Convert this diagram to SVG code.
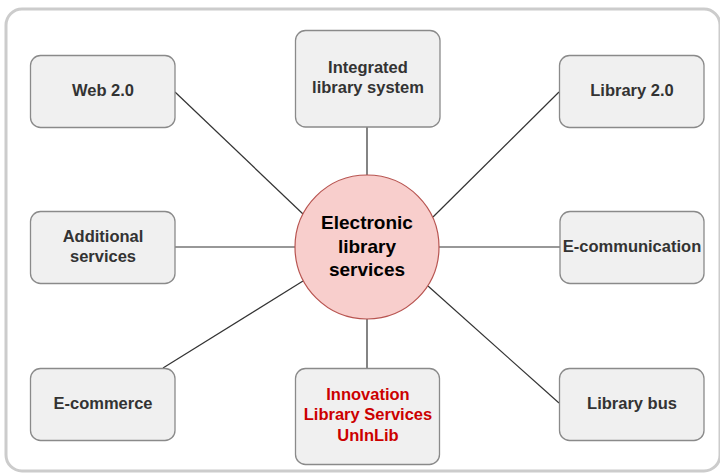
<svg xmlns="http://www.w3.org/2000/svg" width="720" height="474" viewBox="0 0 720 474">
<style>
.box{fill:#f0f0f0;stroke:#8a8a8a;stroke-width:1.3}
.t{font-family:"Liberation Sans",Arial,sans-serif;font-weight:bold;font-size:16.5px;fill:#333;text-anchor:middle;dominant-baseline:central}
.r{fill:#cc0000}
.c{font-size:19px;fill:#000}
.ln{stroke:#333;stroke-width:1.2;fill:none}
</style>
<rect x="6" y="9" width="714" height="462" rx="16" fill="#fff" stroke="#cccccc" stroke-width="3"/>
<g id="connectors">
<line class="ln" x1="175" y1="92" x2="303" y2="214"/>
<line class="ln" x1="367" y1="127" x2="367" y2="175"/>
<line class="ln" x1="559" y1="92" x2="433" y2="217"/>
<line class="ln" x1="175" y1="247" x2="295" y2="247"/>
<line class="ln" x1="439" y1="247" x2="560" y2="247"/>
<line class="ln" x1="163" y1="368" x2="303" y2="281"/>
<line class="ln" x1="367" y1="319" x2="367" y2="368"/>
<line class="ln" x1="559" y1="403" x2="428" y2="286"/>
</g>
<g id="center">
<circle cx="367" cy="247" r="72" fill="#f8cecc" stroke="#b85450" stroke-width="1.2"/>
<text class="t c" x="367" y="222">Electronic</text>
<text class="t c" x="367" y="246">library</text>
<text class="t c" x="367" y="269">services</text>
</g>
<g id="web20">
<rect class="box" x="30.5" y="55.5" width="144.5" height="72" rx="10"/>
<text class="t" x="103" y="90">Web 2.0</text>
</g>
<g id="ils">
<rect class="box" x="295.5" y="30.5" width="144.5" height="96.5" rx="10"/>
<text class="t" x="368" y="67">Integrated</text>
<text class="t" x="368" y="87">library system</text>
</g>
<g id="lib20">
<rect class="box" x="559.5" y="55.5" width="144.5" height="72" rx="10"/>
<text class="t" x="632" y="90">Library 2.0</text>
</g>
<g id="additional">
<rect class="box" x="30.5" y="211.5" width="144.5" height="72" rx="10"/>
<text class="t" x="103" y="236">Additional</text>
<text class="t" x="103" y="256">services</text>
</g>
<g id="ecomm">
<rect class="box" x="560" y="211.5" width="144" height="72" rx="10"/>
<text class="t" x="632" y="246">E-communication</text>
</g>
<g id="ecommerce">
<rect class="box" x="30.5" y="368.5" width="144.5" height="72" rx="10"/>
<text class="t" x="103" y="403">E-commerce</text>
</g>
<g id="innovation">
<rect class="box" x="295.5" y="368.5" width="144" height="96" rx="10"/>
<text class="t r" x="368" y="394">Innovation</text>
<text class="t r" x="368" y="414">Library Services</text>
<text class="t r" x="368" y="435">UnInLib</text>
</g>
<g id="libbus">
<rect class="box" x="559.5" y="368.5" width="144.5" height="72" rx="10"/>
<text class="t" x="632" y="403">Library bus</text>
</g>
</svg>
